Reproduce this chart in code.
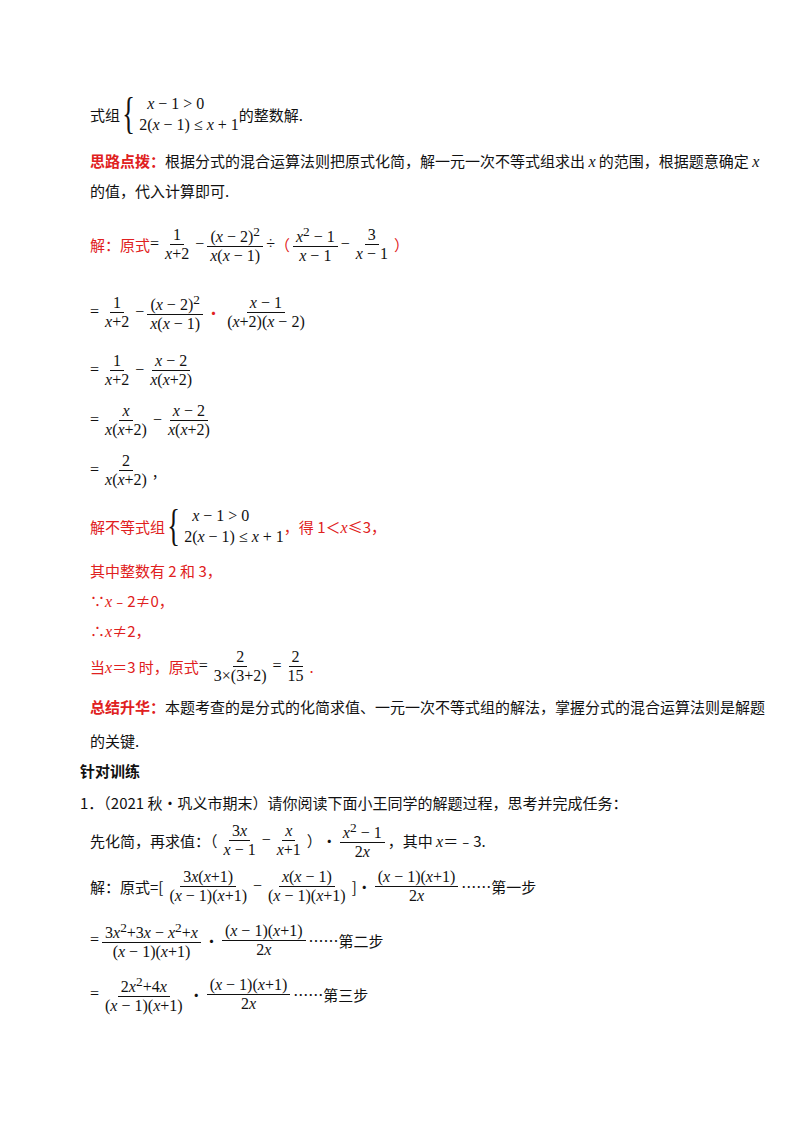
<!DOCTYPE html>
<html><head><meta charset="utf-8">
<script src="https://cdn.jsdelivr.net/npm/chart.js@4"></script>
<style>
body{margin:0;width:800px;height:1132px;background:#fff;font-family:"Noto Sans CJK SC",sans-serif;font-size:15px;color:#111;position:relative}
.r{position:absolute;left:90px;height:44px;display:flex;align-items:center;white-space:nowrap}
.m{font-family:"Liberation Serif",serif;font-size:16px;color:#111}
i{font-family:"Liberation Serif",serif;font-size:16px}
.red{color:#e02020}
.b{font-weight:bold}
.f{display:inline-flex;flex-direction:column;align-items:center;vertical-align:middle;margin:0 3px;font-family:"Liberation Serif",serif;font-size:16px;line-height:18px;color:#111}
.f>span:first-child{border-bottom:1px solid #111;padding:0 3px}
.f>span{padding:0 3px}
.sys{display:inline-flex;align-items:center;font-family:"Liberation Serif",serif;font-size:16px;color:#111}
.sys .br{font-size:44px;font-weight:100;line-height:44px;transform:scaleX(.6);margin:0 0 0 -2px}
.sys .rows{display:flex;flex-direction:column;line-height:21px}
</style></head><body>

<div class="r" style="top:92px"><span>式组</span><span class="sys"><span class="br">{</span><span class="rows"><span>&nbsp;&nbsp;<i>x</i> − 1 &gt; 0</span><span>2(<i>x</i> − 1) ≤ <i>x</i> + 1</span></span></span><span>的整数解.</span></div>

<div class="r" style="top:138px"><span class="red b">思路点拨：</span><span>根据分式的混合运算法则把原式化简，解一元一次不等式组求出 <i>x</i> 的范围，根据题意确定 <i>x</i></span></div>
<div class="r" style="top:168px"><span>的值，代入计算即可.</span></div>

<div class="r red" style="top:222px"><span>解：原式</span><span class="m">=</span>
<span class="f"><span>1</span><span><i>x</i>+2</span></span><span class="m">−</span>
<span class="f"><span>(<i>x</i> − 2)<sup>2</sup></span><span><i>x</i>(<i>x</i> − 1)</span></span><span class="m">÷</span>
<span>（</span><span class="f"><span><i>x</i><sup>2</sup> − 1</span><span><i>x</i> − 1</span></span><span class="m">−</span><span class="f"><span>3</span><span><i>x</i> − 1</span></span><span>）</span></div>

<div class="r" style="top:290px"><span class="m">=</span>
<span class="f"><span>1</span><span><i>x</i>+2</span></span><span class="m">−</span>
<span class="f"><span>(<i>x</i> − 2)<sup>2</sup></span><span><i>x</i>(<i>x</i> − 1)</span></span><span class="red">•</span>
<span class="f"><span><i>x</i> − 1</span><span>(<i>x</i>+2)(<i>x</i> − 2)</span></span></div>

<div class="r" style="top:348px"><span class="m">=</span>
<span class="f"><span>1</span><span><i>x</i>+2</span></span><span class="m">−</span>
<span class="f"><span><i>x</i> − 2</span><span><i>x</i>(<i>x</i>+2)</span></span></div>

<div class="r" style="top:398px"><span class="m">=</span>
<span class="f"><span><i>x</i></span><span><i>x</i>(<i>x</i>+2)</span></span><span class="m">−</span>
<span class="f"><span><i>x</i> − 2</span><span><i>x</i>(<i>x</i>+2)</span></span></div>

<div class="r" style="top:448px"><span class="m">=</span>
<span class="f"><span>2</span><span><i>x</i>(<i>x</i>+2)</span></span><span>,</span></div>

<div class="r red" style="top:504px"><span>解不等式组</span><span class="sys"><span class="br">{</span><span class="rows"><span>&nbsp;&nbsp;<i>x</i> − 1 &gt; 0</span><span>2(<i>x</i> − 1) ≤ <i>x</i> + 1</span></span></span><span>，得 1＜<i>x</i>≤3，</span></div>

<div class="r red" style="top:548px"><span>其中整数有 2 和 3，</span></div>
<div class="r red" style="top:578px"><span>∵<i>x</i>﹣2≠0，</span></div>
<div class="r red" style="top:608px"><span>∴<i>x</i>≠2，</span></div>

<div class="r red" style="top:644px"><span>当<i>x</i>＝3 时，原式</span><span class="m">=</span>
<span class="f"><span>2</span><span>3×(3+2)</span></span><span class="m">=</span>
<span class="f"><span>2</span><span>15</span></span><span>.</span></div>

<div class="r" style="top:684px"><span class="red b">总结升华：</span><span>本题考查的是分式的化简求值、一元一次不等式组的解法，掌握分式的混合运算法则是解题</span></div>
<div class="r" style="top:718px"><span>的关键.</span></div>

<div class="r b" style="top:748px;left:80px"><span>针对训练</span></div>
<div class="r" style="top:780px;left:80px"><span>1．（2021 秋•巩义市期末）请你阅读下面小王同学的解题过程，思考并完成任务：</span></div>

<div class="r" style="top:818px"><span>先化简，再求值：（</span>
<span class="f"><span>3<i>x</i></span><span><i>x</i> − 1</span></span><span class="m">−</span>
<span class="f"><span><i>x</i></span><span><i>x</i>+1</span></span><span>）•</span>
<span class="f"><span><i>x</i><sup>2</sup> − 1</span><span>2<i>x</i></span></span><span>，其中 <i>x</i>＝﹣3.</span></div>

<div class="r" style="top:864px"><span>解：原式=[</span>
<span class="f"><span>3<i>x</i>(<i>x</i>+1)</span><span>(<i>x</i> − 1)(<i>x</i>+1)</span></span><span class="m">−</span>
<span class="f"><span><i>x</i>(<i>x</i> − 1)</span><span>(<i>x</i> − 1)(<i>x</i>+1)</span></span><span>]•</span>
<span class="f"><span>(<i>x</i> − 1)(<i>x</i>+1)</span><span>2<i>x</i></span></span><span>……第一步</span></div>

<div class="r" style="top:918px"><span class="m">=</span>
<span class="f"><span>3<i>x</i><sup>2</sup>+3<i>x</i> − <i>x</i><sup>2</sup>+<i>x</i></span><span>(<i>x</i> − 1)(<i>x</i>+1)</span></span><span>•</span>
<span class="f"><span>(<i>x</i> − 1)(<i>x</i>+1)</span><span>2<i>x</i></span></span><span>……第二步</span></div>

<div class="r" style="top:972px"><span class="m">=</span>
<span class="f"><span>2<i>x</i><sup>2</sup>+4<i>x</i></span><span>(<i>x</i> − 1)(<i>x</i>+1)</span></span><span>•</span>
<span class="f"><span>(<i>x</i> − 1)(<i>x</i>+1)</span><span>2<i>x</i></span></span><span>……第三步</span></div>

</body></html>
